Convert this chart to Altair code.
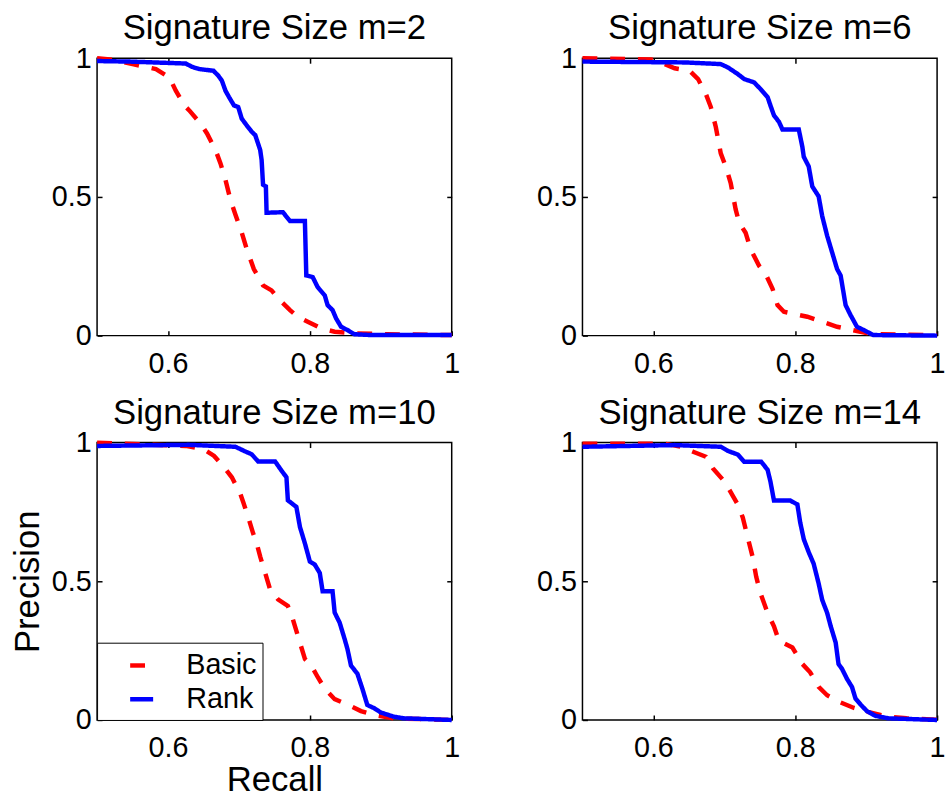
import altair as alt
import pandas as pd

FONT = "Liberation Sans"
METHODS = ["Basic", "Rank"]
COLORS = ["#ff0000", "#0000ff"]
DASHES = [[15, 13], [1, 0]]

panel_titles = ["Signature Size m=2", "Signature Size m=6", "Signature Size m=10", "Signature Size m=14"]

m2_basic_recall = [0.5, 0.518, 0.55, 0.583, 0.602, 0.611, 0.623, 0.630, 0.646, 0.655, 0.667, 0.674, 0.681, 0.688, 0.695, 0.704, 0.711, 0.721, 0.734, 0.746, 0.758, 0.772, 0.783, 0.797, 0.816, 0.835, 0.863, 0.909, 1.0]
m2_basic_precision = [1.0, 0.996, 0.979, 0.961, 0.931, 0.883, 0.830, 0.812, 0.764, 0.729, 0.669, 0.621, 0.562, 0.490, 0.437, 0.371, 0.312, 0.240, 0.181, 0.163, 0.127, 0.092, 0.068, 0.050, 0.026, 0.014, 0.008, 0.005, 0.002]
m2_rank_recall = [0.5, 0.546, 0.625, 0.634, 0.644, 0.664, 0.671, 0.676, 0.681, 0.686, 0.693, 0.699, 0.704, 0.711, 0.718, 0.723, 0.730, 0.732, 0.734, 0.738, 0.739, 0.762, 0.772, 0.793, 0.795, 0.804, 0.811, 0.821, 0.825, 0.832, 0.837, 0.844, 0.853, 0.863, 0.886, 1.0]
m2_rank_precision = [0.99, 0.988, 0.981, 0.969, 0.961, 0.955, 0.937, 0.919, 0.883, 0.860, 0.830, 0.824, 0.782, 0.758, 0.735, 0.723, 0.669, 0.633, 0.544, 0.538, 0.443, 0.445, 0.413, 0.413, 0.217, 0.211, 0.175, 0.145, 0.110, 0.092, 0.062, 0.032, 0.020, 0.005, 0.002, 0.002]

m6_basic_recall = [0.5, 0.597, 0.616, 0.630, 0.651, 0.663, 0.674, 0.681, 0.688, 0.695, 0.702, 0.709, 0.716, 0.721, 0.730, 0.737, 0.749, 0.758, 0.768, 0.775, 0.784, 0.817, 0.859, 0.892, 0.910, 1.0]
m6_basic_precision = [1.0, 0.996, 0.979, 0.964, 0.955, 0.925, 0.871, 0.824, 0.752, 0.657, 0.610, 0.550, 0.455, 0.407, 0.371, 0.312, 0.252, 0.223, 0.169, 0.110, 0.086, 0.068, 0.032, 0.014, 0.005, 0.002]
m6_rank_recall = [0.5, 0.644, 0.695, 0.705, 0.719, 0.728, 0.742, 0.751, 0.761, 0.765, 0.770, 0.777, 0.782, 0.805, 0.810, 0.812, 0.819, 0.824, 0.833, 0.838, 0.845, 0.852, 0.859, 0.864, 0.871, 0.878, 0.887, 0.899, 0.910, 1.0]
m6_rank_precision = [0.988, 0.985, 0.979, 0.967, 0.943, 0.925, 0.913, 0.889, 0.860, 0.830, 0.794, 0.771, 0.743, 0.743, 0.681, 0.645, 0.610, 0.538, 0.502, 0.431, 0.360, 0.300, 0.240, 0.217, 0.110, 0.074, 0.032, 0.017, 0.002, 0.0]

m10_basic_recall = [0.5, 0.625, 0.650, 0.665, 0.679, 0.690, 0.702, 0.706, 0.713, 0.720, 0.725, 0.730, 0.737, 0.744, 0.755, 0.769, 0.776, 0.783, 0.793, 0.802, 0.811, 0.821, 0.835, 0.853, 0.872, 0.891, 0.918, 1.0]
m10_basic_precision = [1.0, 0.988, 0.976, 0.952, 0.911, 0.875, 0.815, 0.786, 0.732, 0.673, 0.637, 0.589, 0.530, 0.470, 0.435, 0.411, 0.363, 0.304, 0.220, 0.196, 0.155, 0.113, 0.075, 0.056, 0.032, 0.018, 0.006, 0.0]
m10_rank_recall = [0.5, 0.630, 0.695, 0.709, 0.718, 0.727, 0.751, 0.760, 0.767, 0.769, 0.781, 0.786, 0.793, 0.800, 0.807, 0.814, 0.818, 0.832, 0.835, 0.842, 0.849, 0.853, 0.858, 0.867, 0.874, 0.881, 0.891, 0.900, 0.918, 0.932, 1.0]
m10_rank_precision = [0.988, 0.992, 0.985, 0.968, 0.958, 0.932, 0.932, 0.899, 0.875, 0.792, 0.768, 0.696, 0.637, 0.571, 0.560, 0.530, 0.464, 0.464, 0.387, 0.351, 0.292, 0.256, 0.196, 0.167, 0.113, 0.054, 0.042, 0.027, 0.012, 0.006, 0.0]

m14_basic_recall = [0.5, 0.616, 0.639, 0.656, 0.674, 0.684, 0.698, 0.707, 0.719, 0.726, 0.733, 0.740, 0.745, 0.751, 0.761, 0.770, 0.777, 0.796, 0.810, 0.821, 0.833, 0.845, 0.864, 0.882, 0.901, 0.929, 0.957, 1.0]
m14_basic_precision = [0.996, 0.996, 0.985, 0.967, 0.949, 0.907, 0.866, 0.830, 0.777, 0.730, 0.658, 0.587, 0.516, 0.457, 0.386, 0.338, 0.285, 0.261, 0.202, 0.172, 0.119, 0.089, 0.063, 0.044, 0.030, 0.012, 0.006, 0.001]
m14_rank_recall = [0.5, 0.630, 0.695, 0.705, 0.719, 0.728, 0.752, 0.761, 0.765, 0.770, 0.793, 0.803, 0.807, 0.812, 0.819, 0.826, 0.833, 0.838, 0.845, 0.850, 0.857, 0.861, 0.866, 0.873, 0.880, 0.885, 0.892, 0.901, 0.913, 0.931, 1.0]
m14_rank_precision = [0.985, 0.991, 0.985, 0.970, 0.957, 0.931, 0.931, 0.902, 0.860, 0.791, 0.791, 0.777, 0.712, 0.652, 0.605, 0.563, 0.492, 0.433, 0.386, 0.338, 0.279, 0.202, 0.184, 0.148, 0.119, 0.077, 0.056, 0.032, 0.015, 0.006, 0.0]

x_tick_values = [0.6, 0.8, 1.0]
y_tick_values = [0.0, 0.5, 1.0]

PW, PH = 358, 280


def make_df(br, bp, rr, rp):
    rows = []
    for i, (r, p) in enumerate(zip(br, bp)):
        rows.append({"recall": r, "precision": p, "method": "Basic", "idx": i})
    for i, (r, p) in enumerate(zip(rr, rp)):
        rows.append({"recall": r, "precision": p, "method": "Rank", "idx": i})
    return pd.DataFrame(rows)


def panel(title, br, bp, rr, rp, legend_on=False, xtitle=False, ytitle=False):
    df = make_df(br, bp, rr, rp)
    xs = alt.Scale(domain=[0.5, 1.0], nice=False, zero=False)
    ys = alt.Scale(domain=[0.0, 1.0], nice=False, zero=False)
    inward = alt.ExprRef(expr="-5")
    if legend_on:
        leg = alt.Legend(
            orient="bottom-left", offset=0, padding=6, rowPadding=2,
            fillColor="white", strokeColor="black",
            symbolType="M-0.8,0L0.8,0", symbolSize=841, symbolStrokeWidth=4.5,
            symbolOffset=22, labelOffset=28, labelFontSize=29,
            labelFont=FONT, labelColor="black", title=None,
        )
    else:
        leg = None
    xaxis = alt.Axis(
        values=x_tick_values, format="~g", title="Recall" if xtitle else None,
        labelFlush=False, labelOverlap=False, tickSize=inward, labelPadding=19,
        titlePadding=0,
    )
    yaxis = alt.Axis(
        values=y_tick_values, format="~g", title="Precision" if ytitle else None,
        labelFlush=False, labelOverlap=False, tickSize=inward, labelPadding=11,
        titlePadding=6,
    )
    lines = alt.Chart(df).mark_line(strokeWidth=4.5).encode(
        x=alt.X("recall:Q", scale=xs, axis=xaxis),
        y=alt.Y("precision:Q", scale=ys, axis=yaxis),
        color=alt.Color("method:N", scale=alt.Scale(domain=METHODS, range=COLORS), legend=leg, title=None),
        strokeDash=alt.StrokeDash("method:N", scale=alt.Scale(domain=METHODS, range=DASHES), legend=leg, title=None),
        detail="method:N",
        order=alt.Order("idx:Q"),
    )
    frame = alt.Chart(df).mark_line(opacity=0).encode(
        x=alt.X("recall:Q", scale=xs, axis=alt.Axis(orient="top", values=[0.6, 0.8], labels=False, title=None, tickSize=inward)),
        y=alt.Y("precision:Q", scale=ys, axis=alt.Axis(orient="right", values=[0.5], labels=False, title=None, tickSize=inward)),
    )
    return alt.layer(frame, lines).resolve_axis(x="independent", y="independent").properties(
        width=PW, height=PH, title=alt.TitleParams(title)
    )


p1 = panel(panel_titles[0], m2_basic_recall, m2_basic_precision, m2_rank_recall, m2_rank_precision)
p2 = panel(panel_titles[1], m6_basic_recall, m6_basic_precision, m6_rank_recall, m6_rank_precision)
p3 = panel(panel_titles[2], m10_basic_recall, m10_basic_precision, m10_rank_recall, m10_rank_precision,
           legend_on=True, xtitle=True, ytitle=True)
p4 = panel(panel_titles[3], m14_basic_recall, m14_basic_precision, m14_rank_recall, m14_rank_precision)

chart = alt.concat(
    p1, p2, p3, p4, columns=2, spacing={"row": 108, "column": 132}, bounds="flush"
).resolve_scale(
    color="independent", strokeDash="independent"
).properties(
    padding={"left": 9, "top": 7, "right": 0, "bottom": 0}
).configure(
    font=FONT, background="white"
).configure_view(
    stroke="black", strokeWidth=1.5
).configure_axis(
    grid=False, domain=False, labelFont=FONT, labelFontSize=29, labelColor="black",
    titleFont=FONT, titleFontSize=35, titleFontWeight="normal", titleColor="black",
    tickColor="black", tickWidth=1.5,
).configure_title(
    font=FONT, fontSize=35, fontWeight="normal", color="black", offset=-2, anchor="middle"
)

chart.save("out.html", embed_options={"renderer": "svg", "actions": False})
